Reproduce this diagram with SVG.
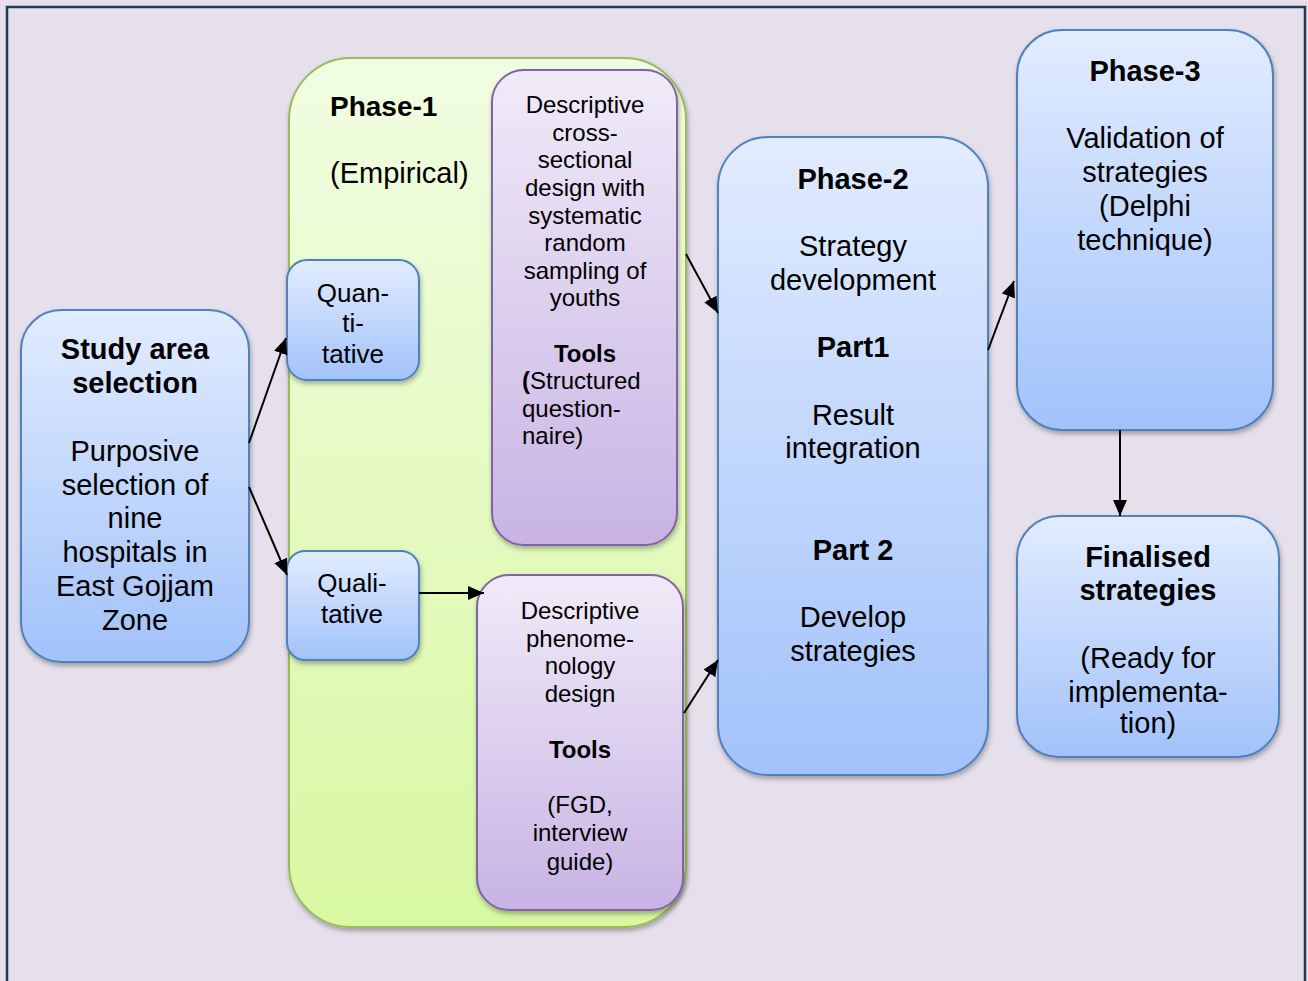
<svg xmlns="http://www.w3.org/2000/svg" width="1308" height="981" viewBox="0 0 1308 981">
<defs>
<linearGradient id="gBlue" x1="0" y1="0" x2="0" y2="1"><stop offset="0" stop-color="#e2ecff"/><stop offset="1" stop-color="#a2c2fa"/></linearGradient>
<linearGradient id="gPurple" x1="0" y1="0" x2="0" y2="1"><stop offset="0" stop-color="#f0ebf8"/><stop offset="1" stop-color="#c8b3e4"/></linearGradient>
<linearGradient id="gGreen" x1="0" y1="0" x2="0" y2="1"><stop offset="0" stop-color="#f1fde2"/><stop offset="1" stop-color="#d9f8a2"/></linearGradient>
<filter id="sh" x="-10%" y="-10%" width="120%" height="120%"><feDropShadow dx="1" dy="3" stdDeviation="2.5" flood-color="#000" flood-opacity="0.3"/></filter>
<marker id="ah" viewBox="0 0 10 10" refX="10" refY="5" markerWidth="8" markerHeight="7" orient="auto" markerUnits="strokeWidth" preserveAspectRatio="none"><path d="M0,0 L10,5 L0,10 z" fill="#000"/></marker>
<style>
.blue{fill:url(#gBlue);stroke:#4f81bd;stroke-width:2;filter:url(#sh)}
.purple{fill:url(#gPurple);stroke:#8064a2;stroke-width:2;filter:url(#sh)}
.green{fill:url(#gGreen);stroke:#9bbb59;stroke-width:2;filter:url(#sh)}
text{font-family:"Liberation Sans",Arial,sans-serif;fill:#000}
.t28{font-size:29px;text-anchor:middle}
.t26{font-size:26px;text-anchor:middle}
.t24{font-size:24px;text-anchor:middle}
.b{font-weight:bold}
.conn line{stroke:#000;stroke-width:2;marker-end:url(#ah)}
</style>
</defs>
<rect x="0" y="0" width="1308" height="981" fill="#e5e0ec"/>
<rect x="7" y="7" width="1298" height="990" fill="#e5e0ec" stroke="#233a57" stroke-width="2.5"/>

<g id="phase1">
<rect class="green" x="289" y="58" width="397" height="869" rx="62"/>
<text x="330" y="116" font-size="28" font-weight="bold">Phase-1</text>
<text x="330" y="183" font-size="29">(Empirical)</text>
</g>

<g id="study">
<rect class="blue" x="21" y="310" width="228" height="352" rx="40"/>
<text class="t28 b" x="135" y="359">Study area</text>
<text class="t28 b" x="135" y="393">selection</text>
<text class="t28" x="135" y="461">Purposive</text>
<text class="t28" x="135" y="495">selection of</text>
<text class="t28" x="135" y="528">nine</text>
<text class="t28" x="135" y="562">hospitals in</text>
<text class="t28" x="135" y="596">East Gojjam</text>
<text class="t28" x="135" y="630">Zone</text>
</g>

<g id="quan">
<rect class="blue" x="287" y="260" width="132" height="120" rx="20"/>
<text class="t26" x="353" y="302">Quan-</text>
<text class="t26" x="353" y="332">ti-</text>
<text class="t26" x="353" y="363">tative</text>
</g>

<g id="qual">
<rect class="blue" x="287" y="551" width="132" height="109" rx="18"/>
<text class="t26" x="352" y="592">Quali-</text>
<text class="t26" x="352" y="623">tative</text>
</g>

<g id="quanDesign">
<rect class="purple" x="492" y="70" width="185" height="475" rx="32"/>
<text class="t24" x="585" y="113">Descriptive</text>
<text class="t24" x="585" y="141">cross-</text>
<text class="t24" x="585" y="168">sectional</text>
<text class="t24" x="585" y="196">design with</text>
<text class="t24" x="585" y="224">systematic</text>
<text class="t24" x="585" y="251">random</text>
<text class="t24" x="585" y="279">sampling of</text>
<text class="t24" x="585" y="306">youths</text>
<text class="t24 b" x="585" y="362">Tools</text>
<text x="522" y="389" font-size="24"><tspan font-weight="bold">(</tspan>Structured</text>
<text x="522" y="417" font-size="24">question-</text>
<text x="522" y="444" font-size="24">naire)</text>
</g>

<g id="qualDesign">
<rect class="purple" x="477" y="575" width="206" height="335" rx="32"/>
<text class="t24" x="580" y="619">Descriptive</text>
<text class="t24" x="580" y="647">phenome-</text>
<text class="t24" x="580" y="674">nology</text>
<text class="t24" x="580" y="702">design</text>
<text class="t24 b" x="580" y="758">Tools</text>
<text class="t24" x="580" y="813">(FGD,</text>
<text class="t24" x="580" y="841">interview</text>
<text class="t24" x="580" y="870">guide)</text>
</g>

<g id="phase2">
<rect class="blue" x="718" y="137" width="270" height="638" rx="50"/>
<text class="t28 b" x="853" y="189">Phase-2</text>
<text class="t28" x="853" y="256">Strategy</text>
<text class="t28" x="853" y="290">development</text>
<text class="t28 b" x="853" y="357">Part1</text>
<text class="t28" x="853" y="425">Result</text>
<text class="t28" x="853" y="458">integration</text>
<text class="t28 b" x="853" y="560">Part 2</text>
<text class="t28" x="853" y="627">Develop</text>
<text class="t28" x="853" y="661">strategies</text>
</g>

<g id="phase3">
<rect class="blue" x="1017" y="30" width="256" height="400" rx="45"/>
<text class="t28 b" x="1145" y="81">Phase-3</text>
<text class="t28" x="1145" y="148">Validation of</text>
<text class="t28" x="1145" y="182">strategies</text>
<text class="t28" x="1145" y="216">(Delphi</text>
<text class="t28" x="1145" y="250">technique)</text>
</g>

<g id="final">
<rect class="blue" x="1017" y="516" width="262" height="241" rx="42"/>
<text class="t28 b" x="1148" y="567">Finalised</text>
<text class="t28 b" x="1148" y="600">strategies</text>
<text class="t28" x="1148" y="668">(Ready for</text>
<text class="t28" x="1148" y="702">implementa-</text>
<text class="t28" x="1148" y="733">tion)</text>
</g>

<g id="connectors" class="conn">
<line x1="249" y1="443" x2="286" y2="338"/>
<line x1="249" y1="487" x2="287" y2="575"/>
<line x1="419" y1="593" x2="484" y2="593"/>
<line x1="686" y1="254" x2="718" y2="313"/>
<line x1="684" y1="713" x2="718" y2="660"/>
<line x1="988" y1="350" x2="1014" y2="281"/>
<line x1="1120" y1="430" x2="1120" y2="516"/>
</g>
</svg>
